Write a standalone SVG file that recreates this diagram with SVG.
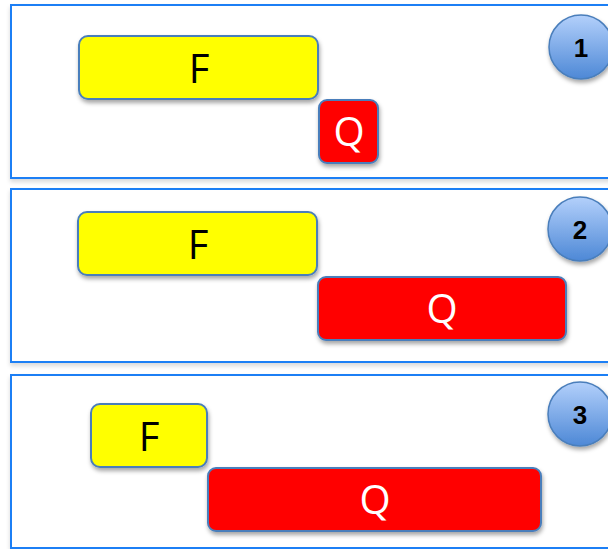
<svg xmlns="http://www.w3.org/2000/svg" width="608" height="549" viewBox="0 0 608 549">
<style>
.panel{fill:#ffffff;stroke:#1f7ff5;stroke-width:2}
.f{fill:#ffff00;stroke:#4a7ebb;stroke-width:2}
.q{fill:#ff0000;stroke:#4a7ebb;stroke-width:2}
.t{font-family:"Open Sans","Liberation Sans",sans-serif;font-size:40px;text-anchor:middle}
.num{font-family:"Liberation Sans",sans-serif;font-size:26px;font-weight:bold;text-anchor:middle;fill:#000}
.badge{fill:url(#bg);stroke:#4a7ebb;stroke-width:1.5}
</style>
<defs>
<filter id="sh" x="-20%" y="-20%" width="140%" height="160%">
<feDropShadow dx="1" dy="3" stdDeviation="2" flood-color="#000" flood-opacity="0.35"/>
</filter>
<filter id="psh" x="-5%" y="-5%" width="110%" height="115%">
<feDropShadow dx="0" dy="3" stdDeviation="2" flood-color="#000" flood-opacity="0.15"/>
</filter>
<linearGradient id="bg" x1="0" y1="0" x2="0" y2="1">
<stop offset="0" stop-color="#b3d0fb"/>
<stop offset="1" stop-color="#4d88d6"/>
</linearGradient>
</defs>
<rect width="608" height="549" fill="#ffffff"/>
<g id="panel1">
<rect class="panel" x="11" y="5" width="610" height="173" filter="url(#psh)"/>
<g id="p1-F"><rect class="f" x="79" y="36" width="239" height="63" rx="9" filter="url(#sh)"/><text class="t" x="199" y="83" fill="#000">F</text></g>
<g id="p1-Q"><rect class="q" x="319" y="100" width="59" height="63" rx="8" filter="url(#sh)"/><text class="t" x="349" y="146" fill="#fff">Q</text></g>
<g id="p1-badge"><circle class="badge" cx="581" cy="47" r="32" filter="url(#sh)"/><text class="num" x="581" y="57">1</text></g>
</g>
<g id="panel2">
<rect class="panel" x="11" y="189" width="610" height="173" filter="url(#psh)"/>
<g id="p2-F"><rect class="f" x="78" y="212" width="239" height="63" rx="9" filter="url(#sh)"/><text class="t" x="198" y="259" fill="#000">F</text></g>
<g id="p2-Q"><rect class="q" x="318" y="277" width="248" height="63" rx="8" filter="url(#sh)"/><text class="t" x="442" y="323" fill="#fff">Q</text></g>
<g id="p2-badge"><circle class="badge" cx="580" cy="229" r="32" filter="url(#sh)"/><text class="num" x="580" y="239">2</text></g>
</g>
<g id="panel3">
<rect class="panel" x="11" y="375" width="610" height="173" filter="url(#psh)"/>
<g id="p3-F"><rect class="f" x="91" y="404" width="116" height="63" rx="9" filter="url(#sh)"/><text class="t" x="149" y="451" fill="#000">F</text></g>
<g id="p3-Q"><rect class="q" x="208" y="468" width="333" height="63" rx="8" filter="url(#sh)"/><text class="t" x="375" y="514" fill="#fff">Q</text></g>
<g id="p3-badge"><circle class="badge" cx="580" cy="414" r="32" filter="url(#sh)"/><text class="num" x="580" y="424">3</text></g>
</g>
<g id="connectors"/>
</svg>
